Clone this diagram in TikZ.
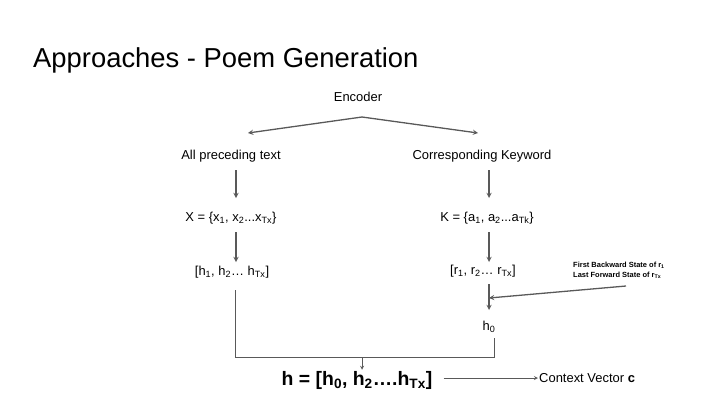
\documentclass[tikz,border=0pt]{standalone}
\usepackage{fontspec}
\setmainfont{Liberation Sans}
\usetikzlibrary{positioning}
\definecolor{linegray}{HTML}{595959}
\newcommand{\sub}[1]{\textsubscript{#1}}

\begin{document}
\begin{tikzpicture}[x=1bp,y=-1bp,
    lbl/.style={inner sep=1pt,font=\fontsize{13}{15}\selectfont},
    tiny/.style={inner sep=0pt,anchor=west,font=\fontsize{7.5}{9}\selectfont\bfseries},
    flow/.style={draw=linegray,line width=1.3pt,-stealth},
    wire/.style={draw=linegray,line width=0.8pt}]
   \useasboundingbox (0,0) rectangle (720,405);
   \node[anchor=west,inner sep=0pt,font=\fontsize{27.5}{30}\selectfont] (title) at (33,60) {Approaches - Poem Generation};
   \node[lbl] (enc) at (358,97) {Encoder};
   \coordinate (split) at (362,117);
   \node[lbl] (prec) at (231,156) {All preceding text};
   \node[lbl] (kw) at (482,156) {Corresponding Keyword};
   \node[lbl] (xs) at (231,218) {X = \{x\sub{1}, x\sub{2}...x\sub{Tx}\}};
   \node[lbl] (ks) at (487,218) {K = \{a\sub{1}, a\sub{2}...a\sub{Tk}\}};
   \node[lbl] (hs) at (232,272) {[h\sub{1}, h\sub{2}… h\sub{Tx}]};
   \node[lbl] (rs) at (483,271) {[r\sub{1}, r\sub{2}… r\sub{Tx}]};
   \node[lbl] (h0) at (489,327) {h\sub{0}};
   \node[tiny] (fb) at (573,265) {First Backward State of r\sub{1}};
   \node[tiny] (lf) at (573,275) {Last Forward State of r\sub{Tx}};
   \node[inner sep=1pt,font=\fontsize{19.5}{22}\selectfont\bfseries] (hv) at (357,380) {h = [h\sub{0}, h\sub{2}….h\sub{Tx}]};
   \node[lbl,anchor=west] (ctx) at (538,378) {Context Vector \textbf{c}};
   \coordinate (side) at (626,286);
   \coordinate (join) at (489,298);
   \coordinate (bl) at (235,357);
   \coordinate (br) at (494,357);
   \coordinate (bm) at (362,357);
   % arrows
   \draw[flow] (split) -- (248,133);
   \draw[flow] (split) -- (478,133);
   \draw[flow] (236,170) -- (236,198);
   \draw[flow] (489,170) -- (489,198);
   \draw[flow] (236,232) -- (236,262);
   \draw[flow] (489,232) -- (489,262);
   \draw[flow] (489,284) -- (489,310);
   \draw[flow] (side) -- (join);
   \draw[wire] (235,290) -- (bl) -- (br) -- (494,338);
   \draw[flow,line width=0.8pt] (bm) -- (bm |- hv.north);
   \draw[flow,line width=0.8pt] (hv.east |- ctx.west) ++(10,0) -- (ctx.west);
\end{tikzpicture}
\end{document}
